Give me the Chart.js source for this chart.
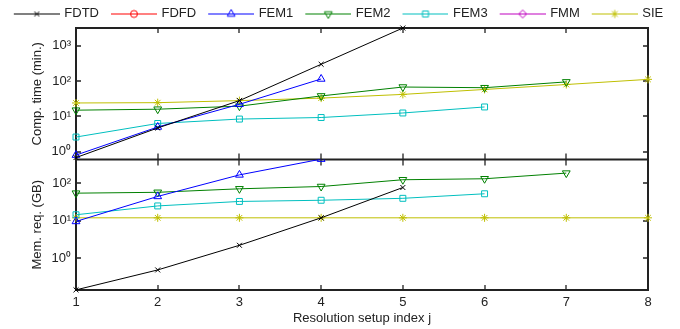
<!DOCTYPE html>
<html>
<head>
<meta charset="utf-8">
<script src="https://cdn.jsdelivr.net/npm/chart.js@4.4.1/dist/chart.umd.min.js"></script>
<style>
	html, body { margin: 0; padding: 0; background: #fff; }
	#wrap { width: 680px; height: 329px; }
</style>
</head>
<body>
<div id="wrap"><canvas id="chart" width="680" height="329"></canvas></div>
<script>
"use strict";

// Resolution setup index j
var RES_INDEX = [1, 2, 3, 4, 5, 6, 7, 8];

// Computation time (min.), one value per setup index starting at j = 1
var FDTD_TIME = [0.68, 4.7, 28, 300, 3200],
	FDFD_TIME = [],
	FEM1_TIME = [0.8, 5.0, 22, 115],
	FEM2_TIME = [15, 16, 19.5, 38, 68, 65, 95],
	FEM3_TIME = [2.6, 6.3, 8.4, 9.3, 12.5, 18.5],
	FMM_TIME = [],
	SIE_TIME = [24, 24.5, 28, 33, 42, 58, 80, 112];

// Memory requirement (GB)
var FDTD_MEM = [0.14, 0.48, 2.2, 12, 78],
	FDFD_MEM = [],
	FEM1_MEM = [9.6, 45, 170, 450],
	FEM2_MEM = [55, 58, 72, 83, 126, 134, 190],
	FEM3_MEM = [14.5, 25, 33, 35.5, 40, 53],
	FMM_MEM = [],
	SIE_MEM = [12, 12, 12, 12, 12, 12, 12, 12];

// Tick values of both log axes
var TIME_TICKS = [1, 10, 100, 1000],
	MEM_TICKS = [1, 10, 100];

var METHODS = ["FDTD", "FDFD", "FEM1", "FEM2", "FEM3", "FMM", "SIE"];

var STYLES = {
	FDTD: { color: "#000000", marker: "crossRot", rotation: 0, radius: 3.5 },
	FDFD: { color: "#ff0000", marker: "circle", rotation: 0, radius: 3.5 },
	FEM1: { color: "#0000ff", marker: "triangle", rotation: 0, radius: 4.5 },
	FEM2: { color: "#008000", marker: "triangle", rotation: 180, radius: 4.5 },
	FEM3: { color: "#00bfbf", marker: "rect", rotation: 0, radius: 4.2 },
	FMM: { color: "#bf00bf", marker: "rectRot", rotation: 0, radius: 4 },
	SIE: { color: "#bfbf00", marker: "star", rotation: 0, radius: 4 }
};

var TEXT_COLOR = "#222",
	FONT = { family: "'Liberation Sans', Arial, sans-serif", size: 13 };

Chart.defaults.font.family = FONT.family;
Chart.defaults.color = TEXT_COLOR;

var SUP = { "0": "\u2070", "1": "\u00b9", "2": "\u00b2", "3": "\u00b3", "-": "\u207b" };

// 10^n written with superscript digits
function powerLabel(value) {
	var e = String(Math.round(Math.log10(value)));
	return "10" + e.split("").map(function (c) { return SUP[c]; }).join("");
}

function toPoints(values) {
	return values.map(function (v, i) { return { x: RES_INDEX[i], y: v }; });
}

function makeDataset(name, values, axis, edgePad) {
	var s = STYLES[name];

	return {
		label: name,
		data: toPoints(values),
		yAxisID: axis,
		borderColor: s.color,
		backgroundColor: "rgba(0,0,0,0)",
		borderWidth: 1,
		pointStyle: s.marker,
		pointRotation: s.rotation,
		pointRadius: s.radius,
		pointBorderColor: s.color,
		pointBackgroundColor: "rgba(0,0,0,0)",
		pointBorderWidth: 1,
		tension: 0,
		clip: false,
		edgePad: edgePad === undefined ? 5 : edgePad
	};
}

// little line + marker picture used as legend symbol
function legendIcon(name) {
	var s = STYLES[name], c = document.createElement("canvas"), g;

	c.width = 55;
	c.height = 12;
	g = c.getContext("2d");
	g.strokeStyle = s.color;
	g.fillStyle = "rgba(0,0,0,0)";
	g.lineWidth = 1;
	g.beginPath();
	g.moveTo(9, 6.5);
	g.lineTo(55, 6.5);
	g.stroke();
	Chart.helpers.drawPoint(g, { pointStyle: s.marker, rotation: s.rotation,
		radius: s.radius, borderWidth: 1 }, 32, 6.5);
	return c;
}

var timeData = [FDTD_TIME, FDFD_TIME, FEM1_TIME, FEM2_TIME, FEM3_TIME, FMM_TIME, SIE_TIME],
	memData = [FDTD_MEM, FDFD_MEM, FEM1_MEM, FEM2_MEM, FEM3_MEM, FMM_MEM, SIE_MEM],
	datasets = [];

METHODS.forEach(function (name, i) {
	datasets.push(makeDataset(name, timeData[i], "yTop"));
});
METHODS.forEach(function (name, i) {
	// FEM1 leaves the memory panel at the top, no margin there
	datasets.push(makeDataset(name, memData[i], "yBot", name === "FEM1" ? 0 : 5));
});

// each panel clips its own lines
var panelClip = {
	id: "panelClip",
	beforeDatasetDraw: function (chart, args) {
		var ctx = chart.ctx, area = chart.chartArea,
			ys = chart.scales[args.meta.yAxisID],
			pad = chart.data.datasets[args.index].edgePad;

		ctx.save();
		ctx.beginPath();
		ctx.rect(area.left - 8, ys.top - pad, area.right - area.left + 16, ys.bottom - ys.top + 2 * pad);
		ctx.clip();
	},
	afterDatasetDraw: function (chart) {
		chart.ctx.restore();
	}
};

// nudge the legend row a little lower and to the left
var legendNudge = {
	id: "legendNudge",
	afterLayout: function (chart) {
		var l = chart.legend;
		if (!l) {
			return;
		}
		l.top += 2;
		l.bottom += 2;
		l.left -= 5;
		l.right -= 5;
	}
};

// box, split line and inward tick marks
var frameAndTicks = {
	id: "frameAndTicks",
	beforeDatasetsDraw: function (chart) {
		var ctx = chart.ctx, area = chart.chartArea,
			x = chart.scales.x, top = chart.scales.yTop, bot = chart.scales.yBot,
			split = top.bottom, len = 5;

		ctx.save();
		ctx.strokeStyle = TEXT_COLOR;
		ctx.lineWidth = 1.3;
		ctx.beginPath();
		x.ticks.forEach(function (t) {
			var px = Math.round(x.getPixelForValue(t.value));
			ctx.moveTo(px, area.top);
			ctx.lineTo(px, area.top + len);
			ctx.moveTo(px, split - len - 1);
			ctx.lineTo(px, split + len + 1);
			ctx.moveTo(px, area.bottom);
			ctx.lineTo(px, area.bottom - len);
		});
		[top, bot].forEach(function (s) {
			s.ticks.forEach(function (t) {
				var py = Math.round(s.getPixelForValue(t.value));
				ctx.moveTo(area.left, py);
				ctx.lineTo(area.left + len, py);
				ctx.moveTo(area.right, py);
				ctx.lineTo(area.right - len, py);
			});
		});
		ctx.stroke();
		ctx.lineWidth = 2;
		ctx.strokeRect(area.left, area.top, area.right - area.left, area.bottom - area.top);
		ctx.beginPath();
		ctx.moveTo(area.left, split);
		ctx.lineTo(area.right, split);
		ctx.stroke();
		ctx.restore();
	}
};

function logAxis(tickValues, weight, min, max, title) {
	return {
		type: "logarithmic",
		position: "left",
		stack: "panels",
		stackWeight: weight,
		min: min,
		max: max,
		afterBuildTicks: function (s) {
			s.ticks = tickValues.map(function (v) { return { value: v }; });
		},
		afterFit: function (s) { s.width = 76; },
		ticks: { callback: powerLabel, font: FONT, padding: 5, color: TEXT_COLOR },
		grid: { display: false, drawTicks: false },
		border: { display: false },
		title: { display: true, text: title, font: FONT, color: TEXT_COLOR,
			padding: { top: 30, bottom: 0 } }
	};
}

new Chart(document.getElementById("chart"), {
	type: "line",
	data: { datasets: datasets },
	options: {
		responsive: false,
		animation: false,
		devicePixelRatio: 1,
		layout: { padding: 0 },
		scales: {
			x: {
				type: "linear",
				position: "bottom",
				min: RES_INDEX[0],
				max: RES_INDEX[RES_INDEX.length - 1],
				afterFit: function (s) { s.height = 39; },
				ticks: { stepSize: 1, font: FONT, padding: 5, color: TEXT_COLOR },
				grid: { display: false, drawTicks: false },
				border: { display: false },
				title: { display: true, text: "Resolution setup index j", font: FONT,
					color: TEXT_COLOR, padding: { top: 0, bottom: 3 } }
			},
			// listed bottom first: stacked left axes are placed in reverse order
			yBot: logAxis(MEM_TICKS, 130, 0.139, 440, "Mem. req. (GB)"),
			yTop: logAxis(TIME_TICKS, 131, 0.6, 3200, "Comp. time (min.)"),
			// empty margin on the right of the plot
			yRight: {
				type: "linear",
				position: "right",
				afterFit: function (s) { s.width = 32; },
				ticks: { display: false },
				grid: { display: false, drawTicks: false },
				border: { display: false }
			}
		},
		plugins: {
			tooltip: { enabled: false },
			legend: {
				display: true,
				position: "top",
				labels: {
					usePointStyle: true,
					pointStyleWidth: 51,
					padding: 5,
					font: FONT,
					color: TEXT_COLOR,
					generateLabels: function () {
						return METHODS.map(function (name, i) {
							return {
								text: name,
								pointStyle: legendIcon(name),
								fillStyle: "rgba(0,0,0,0)",
								strokeStyle: STYLES[name].color,
								lineWidth: 0,
								hidden: false,
								datasetIndex: i,
								fontColor: TEXT_COLOR
							};
						});
					}
				}
			}
		}
	},
	plugins: [panelClip, legendNudge, frameAndTicks]
});
</script>
</body>
</html>
